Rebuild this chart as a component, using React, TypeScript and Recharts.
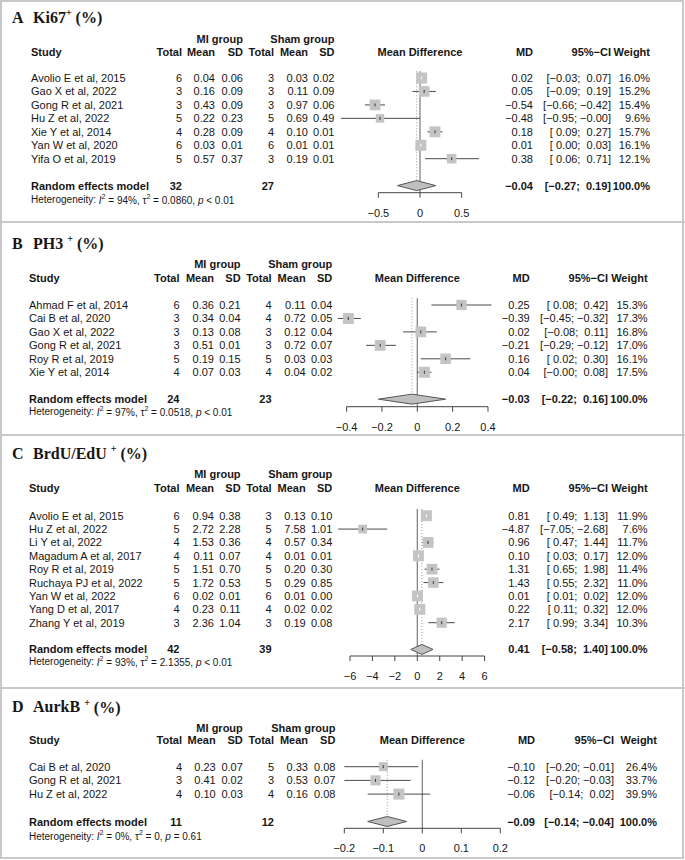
import React from 'react';
import { ScatterChart, Scatter, XAxis, YAxis, ErrorBar, ReferenceLine } from 'recharts';

const SANS = '"Liberation Sans", Arial, Helvetica, sans-serif';
const SERIF = '"Liberation Serif", "Times New Roman", serif';
const MINUS = '\u2212';
const INK = '#161616';

// ---- A: Ki67+ ----
const ki67Studies = ['Avolio E et al, 2015', 'Gao X et al, 2022', 'Gong R et al, 2021', 'Hu Z et al, 2022', 'Xie Y et al, 2014', 'Yan W et al, 2020', 'Yifa O et al, 2019'];
// [total, mean, sd]
const ki67Mi = [[6, 0.04, 0.06], [3, 0.16, 0.09], [3, 0.43, 0.09], [5, 0.22, 0.23], [4, 0.28, 0.09], [6, 0.03, 0.01], [5, 0.57, 0.37]];
const ki67Sham = [[3, 0.03, 0.02], [3, 0.11, 0.09], [3, 0.97, 0.06], [5, 0.69, 0.49], [4, 0.10, 0.01], [6, 0.01, 0.01], [3, 0.19, 0.01]];
// [md, lower, upper]
const ki67Effect = [[0.02, -0.03, 0.07], [0.05, -0.09, 0.19], [-0.54, -0.66, -0.42], [-0.48, -0.95, -0.001], [0.18, 0.09, 0.27], [0.01, 0.0, 0.03], [0.38, 0.06, 0.71]];
const ki67Weight = [16.0, 15.2, 15.4, 9.6, 15.7, 16.1, 12.1];
const ki67Total = [32, 27];
const ki67Pooled = [-0.04, -0.27, 0.19];
const ki67Het = ['94%', '0.0860', '< 0.01'];
const ki67Ticks = [-0.5, 0, 0.5];

// ---- B: PH3+ ----
const ph3Studies = ['Ahmad F et al, 2014', 'Cai B et al, 2020', 'Gao X et al, 2022', 'Gong R et al, 2021', 'Roy R et al, 2019', 'Xie Y et al, 2014'];
const ph3Mi = [[6, 0.36, 0.21], [3, 0.34, 0.04], [3, 0.13, 0.08], [3, 0.51, 0.01], [5, 0.19, 0.15], [4, 0.07, 0.03]];
const ph3Sham = [[4, 0.11, 0.04], [4, 0.72, 0.05], [3, 0.12, 0.04], [3, 0.72, 0.07], [5, 0.03, 0.03], [4, 0.04, 0.02]];
const ph3Effect = [[0.25, 0.08, 0.42], [-0.39, -0.45, -0.32], [0.02, -0.08, 0.11], [-0.21, -0.29, -0.12], [0.16, 0.02, 0.30], [0.04, -0.001, 0.08]];
const ph3Weight = [15.3, 17.3, 16.8, 17.0, 16.1, 17.5];
const ph3Total = [24, 23];
const ph3Pooled = [-0.03, -0.22, 0.16];
const ph3Het = ['97%', '0.0518', '< 0.01'];
const ph3Ticks = [-0.4, -0.2, 0, 0.2, 0.4];

// ---- C: BrdU/EdU+ ----
const brduStudies = ['Avolio E et al, 2015', 'Hu Z et al, 2022', 'Li Y et al, 2022', 'Magadum A et al, 2017', 'Roy R et al, 2019', 'Ruchaya PJ et al, 2022', 'Yan W et al, 2022', 'Yang D et al, 2017', 'Zhang Y et al, 2019'];
const brduMi = [[6, 0.94, 0.38], [5, 2.72, 2.28], [4, 1.53, 0.36], [4, 0.11, 0.07], [5, 1.51, 0.70], [5, 1.72, 0.53], [6, 0.02, 0.01], [4, 0.23, 0.11], [3, 2.36, 1.04]];
const brduSham = [[3, 0.13, 0.10], [5, 7.58, 1.01], [4, 0.57, 0.34], [4, 0.01, 0.01], [5, 0.20, 0.30], [5, 0.29, 0.85], [6, 0.01, 0.0], [4, 0.02, 0.02], [3, 0.19, 0.08]];
const brduEffect = [[0.81, 0.49, 1.13], [-4.87, -7.05, -2.68], [0.96, 0.47, 1.44], [0.10, 0.03, 0.17], [1.31, 0.65, 1.98], [1.43, 0.55, 2.32], [0.01, 0.01, 0.02], [0.22, 0.11, 0.32], [2.17, 0.99, 3.34]];
const brduWeight = [11.9, 7.6, 11.7, 12.0, 11.4, 11.0, 12.0, 12.0, 10.3];
const brduTotal = [42, 39];
const brduPooled = [0.41, -0.58, 1.40];
const brduHet = ['93%', '2.1355', '< 0.01'];
const brduTicks = [-6, -4, -2, 0, 2, 4, 6];

// ---- D: AurkB+ ----
const aurkStudies = ['Cai B et al, 2020', 'Gong R et al, 2021', 'Hu Z et al, 2022'];
const aurkMi = [[4, 0.23, 0.07], [3, 0.41, 0.02], [4, 0.10, 0.03]];
const aurkSham = [[5, 0.33, 0.08], [3, 0.53, 0.07], [4, 0.16, 0.08]];
const aurkEffect = [[-0.10, -0.20, -0.01], [-0.12, -0.20, -0.03], [-0.06, -0.14, 0.02]];
const aurkWeight = [26.4, 33.7, 39.9];
const aurkTotal = [11, 12];
const aurkPooled = [-0.09, -0.14, -0.04];
const aurkHet = ['0%', '0', '= 0.61'];
const aurkTicks = [-0.2, -0.1, 0, 0.1, 0.2];

// column anchors (right aligned except study)
const colsA = { study: 31, n1: 182, m1: 215, s1: 243, n2: 274, m2: 308, s2: 334.5, md: 533, ci: 611, w: 650 };
const colsBC = { study: 29, n1: 179.5, m1: 214, s1: 240.6, n2: 271.6, m2: 305.7, s2: 332.3, md: 529.7, ci: 608, w: 647.6 };
const colsD = { study: 29, n1: 182, m1: 215.7, s1: 242.8, n2: 274, m2: 308, s2: 335.4, md: 535, ci: 614, w: 657 };

const PLOT_L = 336;
const PLOT_R = 505;

const panels = [
  { letter: 'A', name: 'Ki67', gap: false, studies: ki67Studies, mi: ki67Mi, sham: ki67Sham, effect: ki67Effect, weight: ki67Weight, total: ki67Total, pooled: ki67Pooled, het: ki67Het, ticks: ki67Ticks, cols: colsA,
    top: 0, height: 222, titleY: 17, groupY: 39, headY: 52, row0: 78, rh: 13.45, axisY: 192.7, hetY: 199.5, zero: 420, ppu: 83.3 },
  { letter: 'B', name: 'PH3', gap: true, studies: ph3Studies, mi: ph3Mi, sham: ph3Sham, effect: ph3Effect, weight: ph3Weight, total: ph3Total, pooled: ph3Pooled, het: ph3Het, ticks: ph3Ticks, cols: colsBC,
    top: 222, height: 213, titleY: 243, groupY: 264, headY: 278, row0: 305, rh: 13.45, axisY: 406.7, hetY: 411.7, zero: 417.3, ppu: 176.7 },
  { letter: 'C', name: 'BrdU/EdU', gap: true, studies: brduStudies, mi: brduMi, sham: brduSham, effect: brduEffect, weight: brduWeight, total: brduTotal, pooled: brduPooled, het: brduHet, ticks: brduTicks, cols: colsBC,
    top: 435, height: 253, titleY: 453, groupY: 474, headY: 488, row0: 515.7, rh: 13.375, axisY: 656, hetY: 661.7, zero: 417.3, ppu: 11.22 },
  { letter: 'D', name: 'AurkB', gap: true, studies: aurkStudies, mi: aurkMi, sham: aurkSham, effect: aurkEffect, weight: aurkWeight, total: aurkTotal, pooled: aurkPooled, het: aurkHet, ticks: aurkTicks, cols: colsD,
    top: 688, height: 172, titleY: 706.5, groupY: 727.7, headY: 740, row0: 766.7, rh: 13.7, axisY: 828.3, hetY: 836, zero: 422.3, ppu: 390 },
];

const fmt = (v: number, d = 2) => v.toFixed(d).replace('-', MINUS);
const fmtTick = (v: number) => String(v).replace('-', MINUS);

const ciLabels = (p: any) => {
  const los = [...p.effect.map((e: number[]) => fmt(e[1])), fmt(p.pooled[1])];
  const his = [...p.effect.map((e: number[]) => fmt(e[2])), fmt(p.pooled[2])];
  const wl = Math.max(...los.map((s) => s.length));
  const wh = Math.max(...his.map((s) => s.length));
  return los.map((l, i) => `[${l.padStart(wl)}; ${his[i].padStart(wh)}]`);
};

const T = ({ x, y, anchor = 'end', bold = false, size = 11, children }: any) => (
  <text x={x} y={y} textAnchor={anchor} dominantBaseline="central" fontFamily={SANS} fontSize={size}
    fontWeight={bold ? 'bold' : 'normal'} fill={INK} xmlSpace="preserve" style={{ whiteSpace: 'pre' }}>
    {children}
  </text>
);

const TableRow = ({ y, value, p }: any) => {
  const c = p.cols;
  const n = p.studies.length;
  const ci = ciLabels(p);
  if (value === n + 1) {
    const hy = y + (p.hetY - (p.row0 + (n + 1) * p.rh));
    return (
      <g>
        <T x={c.study} y={y} anchor="start" bold>Random effects model</T>
        <T x={c.n1} y={y} bold>{p.total[0]}</T>
        <T x={c.n2} y={y} bold>{p.total[1]}</T>
        <T x={c.md} y={y} bold>{fmt(p.pooled[0])}</T>
        <T x={c.ci} y={y} bold>{ci[n]}</T>
        <T x={c.w} y={y} bold>100.0%</T>
        <text x={c.study} y={hy} dominantBaseline="central" fontFamily={SANS} fontSize={10} fill={INK}>
          Heterogeneity: <tspan fontStyle="italic">I</tspan><tspan dy={-4} fontSize={7}>2</tspan>
          <tspan dy={4}>{` = ${p.het[0]}, τ`}</tspan><tspan dy={-4} fontSize={7}>2</tspan>
          <tspan dy={4}>{` = ${p.het[1]}, `}</tspan><tspan fontStyle="italic">p</tspan>
          <tspan>{` ${p.het[2]}`}</tspan>
        </text>
      </g>
    );
  }
  if (value < 0 || value >= n) return <g />;
  const i = value;
  return (
    <g>
      <T x={c.study} y={y} anchor="start">{p.studies[i]}</T>
      <T x={c.n1} y={y}>{p.mi[i][0]}</T>
      <T x={c.m1} y={y}>{fmt(p.mi[i][1])}</T>
      <T x={c.s1} y={y}>{fmt(p.mi[i][2])}</T>
      <T x={c.n2} y={y}>{p.sham[i][0]}</T>
      <T x={c.m2} y={y}>{fmt(p.sham[i][1])}</T>
      <T x={c.s2} y={y}>{fmt(p.sham[i][2])}</T>
      <T x={c.md} y={y}>{fmt(p.effect[i][0])}</T>
      <T x={c.ci} y={y}>{ci[i]}</T>
      <T x={c.w} y={y}>{`${p.weight[i].toFixed(1)}%`}</T>
    </g>
  );
};

const Headers = ({ p }: any) => {
  const c = p.cols;
  return (
    <g>
      <text x={12} y={p.titleY} dominantBaseline="central" fontFamily={SERIF} fontSize={16} fontWeight="bold" fill={INK}>
        {p.letter}
      </text>
      <text x={33} y={p.titleY} dominantBaseline="central" fontFamily={SERIF} fontSize={16} fontWeight="bold" fill={INK}>
        {p.name}{p.gap ? ' ' : ''}<tspan dy={-5} fontSize={10}>+</tspan><tspan dy={5}> (%)</tspan>
      </text>
      <T x={c.s1} y={p.groupY} bold>MI group</T>
      <T x={c.s2} y={p.groupY} bold>Sham group</T>
      <T x={c.study} y={p.headY} anchor="start" bold>Study</T>
      <T x={c.n1} y={p.headY} bold>Total</T>
      <T x={c.m1} y={p.headY} bold>Mean</T>
      <T x={c.s1} y={p.headY} bold>SD</T>
      <T x={c.n2} y={p.headY} bold>Total</T>
      <T x={c.m2} y={p.headY} bold>Mean</T>
      <T x={c.s2} y={p.headY} bold>SD</T>
      <T x={p.zero} y={p.headY} anchor="middle" bold>Mean Difference</T>
      <T x={c.md} y={p.headY} bold>MD</T>
      <T x={c.ci} y={p.headY} bold>{`95%${MINUS}CI`}</T>
      <T x={c.w} y={p.headY} bold>Weight</T>
    </g>
  );
};

const ForestPanel = ({ p }: any) => {
  const n = p.studies.length;
  const sRow = n + 1;
  const axisRow = (p.axisY - p.row0) / p.rh;
  const wMax = Math.max(...p.weight);
  const side = (w: number) => 11 * Math.sqrt(w / wMax);
  const rows = p.effect.map((e: number[], i: number) => ({
    x: e[0], y: i, w: p.weight[i], err: [e[0] - e[1], e[2] - e[0]],
    inside: (e[2] - e[1]) * p.ppu < side(p.weight[i]),
  }));
  const dark = rows.filter((r: any) => !r.inside);
  const light = rows.filter((r: any) => r.inside);
  const dh = 5 / p.rh;
  const [md, lo, hi] = p.pooled;
  const diamond = [{ x: lo, y: sRow }, { x: md, y: sRow - dh }, { x: hi, y: sRow }, { x: md, y: sRow + dh }];
  const xDomain = [(PLOT_L - p.zero) / p.ppu, (PLOT_R - p.zero) / p.ppu];
  const localAxis = p.axisY - p.top;
  const mTop = p.row0 - p.top - 0.5 * p.rh;
  const rowTicks = [...p.studies.map((_: string, i: number) => i), sRow];

  return (
    <div style={{ position: 'absolute', left: 0, top: p.top, width: 685, height: p.height }}>
      <ScatterChart width={685} height={p.height} margin={{ top: mTop, right: 685 - PLOT_R, bottom: 0, left: 0 }}>
        <XAxis type="number" dataKey="x" domain={xDomain} allowDataOverflow ticks={p.ticks} interval={0}
          axisLine={false} tickLine={{ stroke: '#444' }} tickSize={5} tickMargin={11}
          height={p.height - localAxis} tickFormatter={fmtTick}
          tick={{ fontSize: 11, fill: INK, fontFamily: SANS }} />
        <YAxis type="number" dataKey="y" domain={[-0.5, axisRow]} allowDataOverflow reversed ticks={rowTicks}
          interval={0} width={PLOT_L} axisLine={false} tickLine={false}
          tick={(tp: any) => <TableRow y={tp.y} value={tp.payload.value} p={p} />} />
        <ReferenceLine segment={[{ x: 0, y: -0.5 }, { x: 0, y: axisRow }]} stroke="#7a7a7a" strokeWidth={1.2} />
        <ReferenceLine segment={[{ x: md, y: -0.5 }, { x: md, y: sRow - dh }]} stroke="#9a9a9a" strokeDasharray="1 2" />
        <ReferenceLine segment={[{ x: p.ticks[0], y: axisRow }, { x: p.ticks[p.ticks.length - 1], y: axisRow }]} stroke="#444" />
        <Scatter data={rows} isAnimationActive={false}
          shape={(sp: any) => {
            const s = side(sp.payload.w);
            return <rect x={sp.cx - s / 2} y={sp.cy - s / 2} width={s} height={s} fill="#c4c4c4" />;
          }} />
        <Scatter data={dark} isAnimationActive={false}
          shape={(sp: any) => <line x1={sp.cx} x2={sp.cx} y1={sp.cy - 1.5} y2={sp.cy + 1.5} stroke="#3a3a3a" />}>
          <ErrorBar dataKey="err" direction="x" width={0} stroke="#4a4a4a" strokeWidth={1} isAnimationActive={false} />
        </Scatter>
        <Scatter data={light} isAnimationActive={false}
          shape={(sp: any) => <line x1={sp.cx} x2={sp.cx} y1={sp.cy - 1.5} y2={sp.cy + 1.5} stroke="#ffffff" />}>
          <ErrorBar dataKey="err" direction="x" width={0} stroke="#ffffff" strokeWidth={1} isAnimationActive={false} />
        </Scatter>
        <Scatter data={diamond} isAnimationActive={false} lineType="joint" shape={() => <g />}
          line={(lp: any) => (
            <polygon points={lp.points.map((q: any) => `${q.x},${q.y}`).join(' ')} fill="#bfbfbf" stroke="#555" strokeWidth={1} />
          )} />
      </ScatterChart>
    </div>
  );
};

export default function App() {
  return (
    <div style={{ position: 'relative', width: 685, height: 860, background: '#fff', fontFamily: SANS }}>
      <style>{'body{margin:0;background:#fff}'}</style>
      {panels.map((p) => <ForestPanel key={p.letter} p={p} />)}
      <svg width={685} height={860} style={{ position: 'absolute', left: 0, top: 0, pointerEvents: 'none' }}>
        {panels.map((p) => <Headers key={p.letter} p={p} />)}
        <rect x={1} y={1} width={682} height={857} fill="none" stroke="#c8c8c8" strokeWidth={2} />
        {[222, 435, 688].map((y) => (
          <line key={y} x1={0} x2={685} y1={y} y2={y} stroke="#c8c8c8" strokeWidth={2} />
        ))}
      </svg>
    </div>
  );
}
